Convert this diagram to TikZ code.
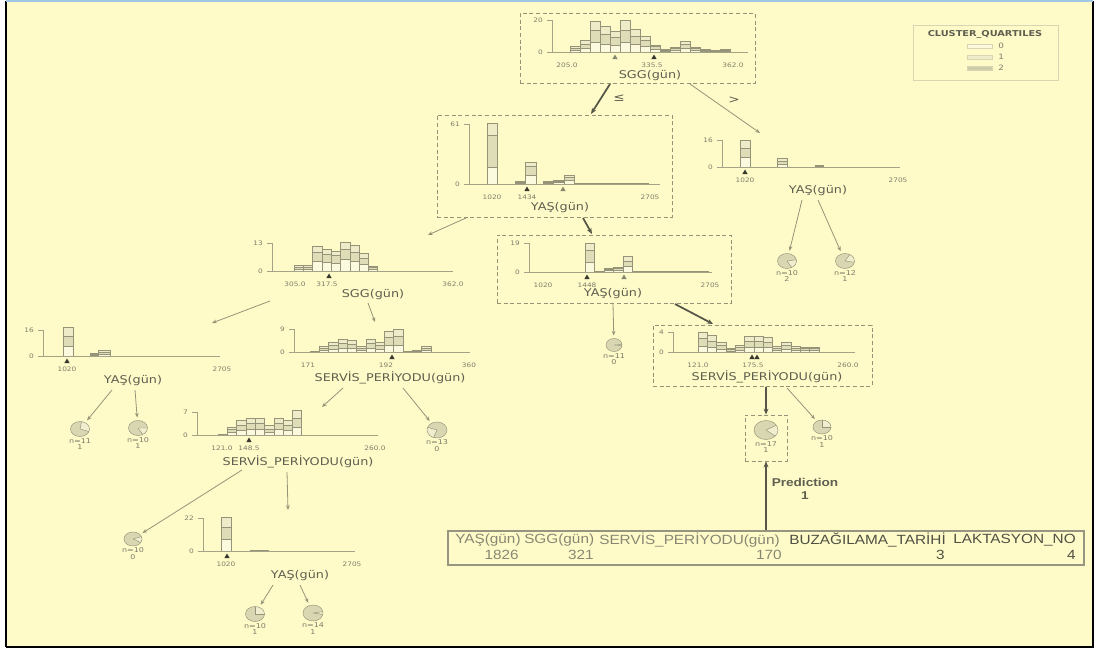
\documentclass[tikz,border=0pt]{standalone}
\usepackage{fontspec}
\newfontfamily\dv{DejaVu Sans}
\newfontfamily\ar{Liberation Sans}
\usetikzlibrary{arrows.meta,fit,shapes.geometric}
\definecolor{bg}{RGB}{254,251,200}
\definecolor{kzero}{RGB}{251,249,222}
\definecolor{kone}{RGB}{238,236,200}
\definecolor{ktwo}{RGB}{222,221,184}
\definecolor{legtwo}{RGB}{205,204,166}
\definecolor{piemain}{RGB}{216,215,178}
\definecolor{piewedge}{RGB}{240,238,206}
\definecolor{barl}{RGB}{150,148,120}
\definecolor{axc}{RGB}{165,163,135}
\definecolor{txt}{RGB}{95,95,80}
\definecolor{tk}{RGB}{125,124,105}
\definecolor{edgec}{RGB}{150,148,120}
\definecolor{pathc}{RGB}{85,85,72}
\definecolor{tridark}{RGB}{55,55,45}
\definecolor{trilight}{RGB}{135,134,110}
\definecolor{tabc}{RGB}{150,150,128}
\definecolor{hdrl}{RGB}{135,135,115}
\definecolor{hdrd}{RGB}{80,80,68}
\definecolor{legc}{RGB}{215,213,178}
\definecolor{topl}{RGB}{160,200,230}
\newcommand\sx[1]{\scalebox{1.2}[1]{#1}}
\newcommand\tx[1]{\scalebox{1.15}[1]{#1}}
\tikzset{
 axl/.style={draw=axc,line width=0.6pt},
 tick/.style={font=\dv\fontsize{4.6}{5}\selectfont,text=tk,inner sep=0},
 flabel/.style={font=\dv\fontsize{8}{9}\selectfont,text=txt,inner sep=0},
 leaflab/.style={font=\dv\fontsize{5}{4.8}\selectfont,text=tk,inner sep=0,align=center},
 dbox/.style={draw=edgec,dash pattern=on 3pt off 2pt,line width=0.6pt,inner sep=0},
 area/.style={inner sep=0,draw=none},
 edge/.style={draw=edgec,line width=0.6pt,-{Stealth[length=3.5pt,width=2.8pt]}},
 pedge/.style={draw=pathc,line width=1.3pt,-{Stealth[length=4.5pt,width=3.6pt]}},
 tabtext/.style={font=\ar\fontsize{10}{11}\selectfont,inner sep=0},
}
\newcommand\histo[3]{\foreach \x/\a/\b/\c in {#3}{%
 \filldraw[fill=kzero,draw=barl,line width=0.35pt] (\x,#1) rectangle ({\x+#2},{#1-\a});
 \filldraw[fill=ktwo,draw=barl,line width=0.35pt] (\x,{#1-\a}) rectangle ({\x+#2},{#1-\a-\b});
 \filldraw[fill=kone,draw=barl,line width=0.35pt] (\x,{#1-\a-\b}) rectangle ({\x+#2},{#1-\a-\b-\c});
}}
\newcommand\yaxis[4]{%
 \draw[axl] ({#1-5},#3) -- (#1,#3) -- (#1,#2) -- ({#1-5},#2);
 \node[tick,anchor=east] at ({#1-9},#3) {\sx{#4}};
 \node[tick,anchor=east] at ({#1-9},#2) {\sx{0}};}
\newcommand\xaxis[3]{\draw[axl] (#2,#1) -- (#3,#1);}
\newcommand\xlab[3]{\node[tick] at (#1,{#2+13}) {\sx{#3}};}
\newcommand\tri[3]{\fill[#3] (#1,{#2+2.5}) -- ({#1-2.6},{#2+7}) -- ({#1+2.6},{#2+7}) -- cycle;}
% name, x, y, rx, ry, a1, a2, n, class
\newcommand\pie[9]{%
 \fill[piemain] (#2,#3) ellipse [x radius=#4, y radius=#5];
 \fill[piewedge] (#2,#3) -- ++(#6:#4 and #5) arc[start angle=#6,end angle=#7,x radius=#4,y radius=#5] -- cycle;
 \draw[barl,line width=0.35pt] (#2,#3) ellipse [x radius=#4, y radius=#5];
 \draw[barl,line width=0.35pt] (#2,#3) -- ++(#6:#4 and #5) (#2,#3) -- ++(#7:#4 and #5);
 \node[ellipse,inner sep=0,minimum width=#4*1.5pt,minimum height=#5*1.5pt] (#1) at (#2,#3) {};
 \node[leaflab,anchor=north] at (#2,{#3+#5+1.5}) {\sx{n=#8}\\\sx{#9}};}
\begin{document}
\begin{tikzpicture}[x=0.75pt,y=-0.75pt]
\useasboundingbox (0,0) rectangle (1096,650);
\fill[white] (0,0) rectangle (1096,650);
\fill[bg] (6,1) rectangle (1093,647);
\draw[black,line width=2.2pt] (6,647) -- (6,1) (1093,1) -- (1093,647) -- (6,647);
\draw[topl,line width=1pt] (6,1) -- (1093,1);

% legend
\node[draw=legc,line width=0.6pt,fit={(913,25) (1058,80)},inner sep=0] (leg) {};
\node[font=\dv\bfseries\fontsize{6.1}{6.5}\selectfont,text=txt,inner sep=0] (legt) at (985,34) {\sx{CLUSTER\_QUARTILES}};
\foreach \yy/\cc/\ll in {46/kzero/0,57/kone/1,68/legtwo/2}{
  \filldraw[fill=\cc,draw=legc,line width=0.4pt] (967,{\yy-2.2}) rectangle (992,{\yy+2.2});
  \node[tick,anchor=west,font=\dv\fontsize{5.5}{6}\selectfont] at (998,\yy) {\sx{\ll}};}

% ---- Root A
\node[dbox,fit={(520,13) (755,83)}] (A) {};
\histo{52}{10}{570/2/2/1.6, 580/4/4/3.5, 590/10/12/8.4, 600/8/10/7.6, 610/7/8/5.5, 620/10/12/10, 630/8/8/6.4, 640/6/6/4, 650/3/2.5/1.7, 660/1/1/1, 670/2/1.5/1.3, 680/4/4/3.2, 690/2/1.5/1.3, 700/1/1/1.2, 710/0.6/0.5/0.5, 720/1/0.7/0.7}
\yaxis{552}{52}{20}{20}
\xaxis{52}{548}{748}
\xlab{567}{52}{205.0}\xlab{652}{52}{335.5}\xlab{733}{52}{362.0}
\tri{615}{52}{trilight}\tri{654}{52}{tridark}
\node[flabel] at (650,76) {\sx{SGG(gün)}};

% ---- B
\node[dbox,fit={(437,115) (672,217)}] (B) {};
\histo{184}{10.5}{487/17/32/12, 515/1/1/1, 525.5/9/9/3.7, 543/1/1/0.3, 553.5/1.3/1/1, 564/4/3/2, 574.5/0.4/0.3/0.3, 585/0.4/0.3/0.3, 595.5/0.6/0.3/0.3, 606/0.6/0.3/0.3, 616.5/0.4/0.3/0.3, 627/0.6/0.3/0.3, 637.5/0.6/0.3/0.3}
\yaxis{469}{184}{124}{61}
\xaxis{184}{467}{660}
\xlab{492}{184}{1020}\xlab{527}{184}{1434}\xlab{650}{184}{2705}
\tri{527}{184}{tridark}\tri{563}{184}{trilight}
\node[flabel] at (560,208) {\sx{YAŞ(gün)}};

% ---- C
\node[area,fit={(700,135) (905,198)}] (C) {};
\histo{167}{10}{740/10/9/8, 777/3/3/3}
\histo{167}{8}{815/0.5/0.5/0.5}
\yaxis{722}{167}{140}{16}
\xaxis{167}{718}{900}
\xlab{745}{167}{1020}\xlab{898}{167}{2705}
\tri{745}{167}{tridark}
\node[flabel] at (818,191) {\sx{YAŞ(gün)}};

% ---- D
\node[area,fit={(245,238) (458,302)}] (D) {};
\histo{271}{9.3}{294/2/2/1.3, 303.3/2/2/1.3, 312.6/10/9/5.3, 321.9/9/8/4.7, 331.2/8/8/4, 340.5/12/10/7, 349.8/10/9/6.7, 359.1/7/6/4.7, 368.4/2/2/1}
\yaxis{272}{271}{243}{13}
\xaxis{271}{270}{453}
\xlab{295}{271}{305.0}\xlab{327}{271}{317.5}\xlab{453}{271}{362.0}
\tri{329}{271}{tridark}
\node[flabel] at (373,295) {\sx{SGG(gün)}};

% ---- E
\node[dbox,fit={(497,235) (731,303)}] (E) {};
\histo{272}{9.5}{585/10/12/7, 594.5/0.5/0.3/0.2, 604/2/1/1, 613.5/2/2/1, 623/6/5/4.7, 632.5/0.4/0.2/0.2, 642/0.4/0.2/0.2, 651.5/0.6/0.3/0.2, 661/0.6/0.3/0.2, 670.5/0.6/0.3/0.2, 680/0.6/0.3/0.2, 689.5/0.6/0.3/0.2, 699/0.6/0.3/0.2}
\yaxis{529}{272}{243}{19}
\xaxis{272}{527}{712}
\xlab{543}{272}{1020}\xlab{587}{272}{1448}\xlab{710}{272}{2705}
\tri{587}{272}{tridark}\tri{624}{272}{trilight}
\node[flabel] at (613,294) {\sx{YAŞ(gün)}};

% ---- J
\node[area,fit={(15,322) (228,390)}] (J) {};
\histo{356}{10}{63/10/10/9}
\histo{356}{8}{90/1/1/0.3}
\histo{356}{12}{98/2/2/1.7}
\yaxis{43}{356}{330}{16}
\xaxis{356}{41}{220}
\xlab{67}{356}{1020}\xlab{222}{356}{2705}
\tri{67}{356}{tridark}
\node[flabel] at (133,381) {\sx{YAŞ(gün)}};

% ---- K
\node[area,fit={(270,324) (475,386)}] (K) {};
\histo{352}{9.3}{310/0.3/0.2/0.2, 319.3/2/2/1.7, 328.6/3/4/2.7, 337.9/4/5/3.3, 347.2/4/4/3.7, 356.5/2/2/1.7, 365.8/4/5/3.3, 375.1/3/4/2.7, 384.4/7/8/5.7, 393.7/7/9/6.3, 403/0.3/0.2/0.2, 412.3/0.7/0.5/0.5, 421.6/2/2/1.7}
\yaxis{294}{352}{329}{9}
\xaxis{352}{292}{470}
\xlab{308}{352}{171}\xlab{386}{352}{192}\xlab{469}{352}{360}
\tri{392}{352}{tridark}
\node[flabel] at (390,378) {\sx{SERVİS\_PERİYODU(gün)}};

% ---- L
\node[area,fit={(175,405) (385,470)}] (L) {};
\histo{435}{9.3}{218/0.5/0.3/0.2, 227.3/3/3/1.7, 236.6/5/5/4.3, 245.9/6/6/5, 255.2/6/6/4.7, 264.5/3/3/3.3, 273.8/6/6/4.7, 283.1/5/5/4.3, 292.4/8/9/7.3}
\yaxis{197}{435}{412}{7}
\xaxis{435}{195}{378}
\xlab{222}{435}{121.0}\xlab{249}{435}{148.5}\xlab{375}{435}{260.0}
\tri{249}{435}{tridark}
\node[flabel] at (298,462) {\sx{SERVİS\_PERİYODU(gün)}};

% ---- O
\node[area,fit={(180,512) (360,584)}] (O) {};
\histo{551}{10}{221/12/12/10}
\histo{551}{18}{250/0.5/0.3/0.2}
\yaxis{203}{551}{518}{22}
\xaxis{551}{201}{355}
\xlab{226}{551}{1020}\xlab{352}{551}{2705}
\tri{227}{551}{tridark}
\node[flabel] at (300,576) {\sx{YAŞ(gün)}};

% ---- G
\node[dbox,fit={(653,325) (872,386)}] (G) {};
\histo{352}{9.3}{698/6/8/6, 707.3/5/6/5.7, 716.6/3/4/3, 725.9/1/1.3/1, 735.2/2/2.7/2, 744.5/5/6/4.7, 753.8/5/6/4.7, 763.1/5/5/5, 772.4/2/2/1.7, 781.7/3/4/3, 791/2/2/1.7, 800.3/2/2/1, 809.6/2/2/1}
\yaxis{673}{352}{332}{4}
\xaxis{352}{671}{855}
\xlab{698}{352}{121.0}\xlab{753}{352}{175.5}\xlab{848}{352}{260.0}
\tri{752}{352}{tridark}\tri{757}{352}{tridark}
\node[flabel] at (767,377) {\sx{SERVİS\_PERİYODU(gün)}};

% ---- leaves
\pie{P1}{787}{261}{9.5}{7.5}{-10}{60}{10}{2}
\pie{P2}{845}{261}{9.5}{7.5}{-60}{10}{12}{1}
\pie{F}{614}{345}{8}{6.5}{-5}{5}{11}{0}
\node[dbox,fit={(745,415) (787,461)}] (Hb) {};
\pie{H}{766}{430}{12}{9.5}{-30}{40}{17}{1}
\pie{I}{822}{427}{9}{7}{-90}{0}{10}{1}
\pie{J1}{80}{429}{9.5}{7.5}{-80}{20}{11}{1}
\pie{J2}{138}{428}{9.5}{7.5}{0}{60}{10}{1}
\pie{M}{437}{430}{10}{8}{110}{200}{13}{0}
\pie{N}{133}{539}{9}{7}{-20}{30}{10}{0}
\pie{Q1}{255}{614}{9.5}{7.5}{-90}{0}{10}{1}
\pie{Q2}{313}{613}{10}{8}{-10}{10}{14}{1}

% ---- table
\node[draw=tabc,line width=0.8pt,fit={(448,531) (1084,565)},inner sep=0] (T) {};
\node[tabtext,text=hdrl,anchor=west] at (455,540) {\tx{YAŞ(gün)}};
\node[tabtext,text=hdrl,anchor=west] at (524,540) {\tx{SGG(gün)}};
\node[tabtext,text=hdrl,anchor=west] at (599,540) {\tx{SERVİS\_PERİYODU(gün)}};
\node[tabtext,text=hdrd,anchor=west] at (789,540) {\tx{BUZAĞILAMA\_TARİHİ}};
\node[tabtext,text=hdrd,anchor=west] at (953,540) {\tx{LAKTASYON\_NO}};
\node[tabtext,text=hdrl,anchor=east] at (519,555) {\tx{1826}};
\node[tabtext,text=hdrl,anchor=east] at (594,555) {\tx{321}};
\node[tabtext,text=hdrl,anchor=east] at (782,555) {\tx{170}};
\node[tabtext,text=hdrd,anchor=east] at (945,555) {\tx{3}};
\node[tabtext,text=hdrd,anchor=east] at (1076,555) {\tx{4}};
\node[font=\ar\bfseries\fontsize{8.5}{9.5}\selectfont,text=txt,align=center,inner sep=0] (pred) at (805,489) {\sx{Prediction}\\\sx{1}};

% ---- connector ends
\coordinate (a1) at (610,84); \coordinate (b0) at (591,114);
\coordinate (a2) at (690,84); \coordinate (c0) at (760,133);
\coordinate (b1) at (466,218); \coordinate (d0) at (428,235);
\coordinate (b2) at (583,218); \coordinate (e0) at (592,234);
\coordinate (c1) at (802,200); \coordinate (c2) at (818,200);
\coordinate (d1) at (270,301); \coordinate (j0) at (212,323);
\coordinate (d2) at (368,303); \coordinate (k0) at (375,322);
\coordinate (j1) at (112,390); \coordinate (j2) at (135,390);
\coordinate (k1) at (343,388); \coordinate (l0) at (322,407);
\coordinate (k2) at (403,388);
\coordinate (e1) at (613,304);
\coordinate (e2) at (675,304); \coordinate (g0) at (713,324);
\coordinate (g1) at (766,387);
\coordinate (g2) at (787,388);
\coordinate (l1) at (242,470); \coordinate (l2) at (287,472); \coordinate (o0) at (288,510);
\coordinate (o1) at (273,585); \coordinate (o2) at (300,585);

\draw[pedge] (a1) -- (b0);
\node[font=\dv\fontsize{8.5}{9}\selectfont,text=txt,inner sep=0] at (619,98) {\sx{≤}};
\draw[edge] (a2) -- (c0);
\node[font=\dv\fontsize{8.5}{9}\selectfont,text=txt,inner sep=0] at (734,100) {\sx{>}};
\draw[edge] (b1) -- (d0);
\draw[pedge] (b2) -- (e0);
\draw[edge,shorten >=2pt] (c1) -- (P1);
\draw[edge,shorten >=2pt] (c2) -- (P2);
\draw[edge] (d1) -- (j0);
\draw[edge] (d2) -- (k0);
\draw[edge,shorten >=2pt] (j1) -- (J1);
\draw[edge,shorten >=2pt] (j2) -- (J2);
\draw[edge] (k1) -- (l0);
\draw[edge,shorten >=2pt] (k2) -- (M);
\draw[edge,shorten >=2pt] (e1) -- (F);
\draw[pedge] (e2) -- (g0);
\draw[pedge] (g1) -- (Hb.north);
\draw[edge,shorten >=2pt] (g2) -- (I);
\draw[edge,shorten >=2pt] (l1) -- (N);
\draw[edge] (l2) -- (o0);
\draw[edge,shorten >=2pt] (o1) -- (Q1);
\draw[edge,shorten >=2pt] (o2) -- (Q2);
\draw[pedge] (T.north) -- (Hb.south);
\end{tikzpicture}
\end{document}
